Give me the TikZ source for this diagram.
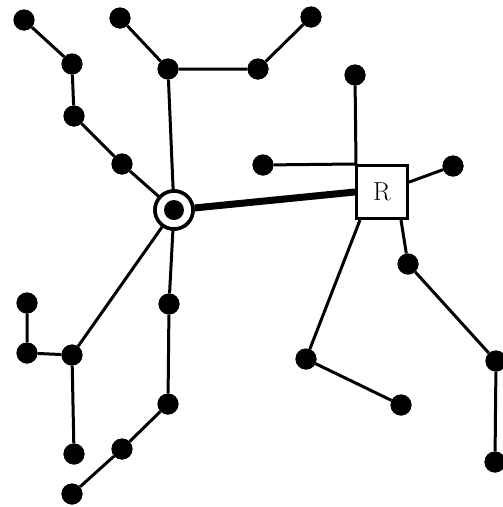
\documentclass[tikz,border=0pt]{standalone}
\begin{document}
\begin{tikzpicture}[x=1pt,y=-1pt,
  dot/.style={circle,fill=black,minimum size=21pt,inner sep=0pt},
  edge/.style={line width=3pt},
  trunk/.style={line width=7pt},
  hubring/.style={circle,draw,line width=3.5pt,minimum size=38pt,inner sep=0pt,fill=white},
  router/.style={rectangle,draw,line width=3pt,minimum width=51pt,minimum height=53pt,inner sep=0pt,fill=white,font=\fontsize{26}{26}\selectfont}
]
\useasboundingbox (0,0) rectangle (503,507);
% nodes
\node[hubring] (hub) at (174,210) {};
\node[router] (R) at (382,192) {R};
\node[dot] (a1) at (24,20) {};
\node[dot] (a2) at (72,64) {};
\node[dot] (a3) at (74,116) {};
\node[dot] (a4) at (122,164) {};
\node[dot] (b1) at (120,18) {};
\node[dot] (b2) at (168,69) {};
\node[dot] (b3) at (258,69) {};
\node[dot] (b4) at (311,17) {};
\node[dot] (c1) at (355,75) {};
\node[dot] (c2) at (263,165) {};
\node[dot] (c3) at (453,166) {};
\node[dot] (d1) at (306,359) {};
\node[dot] (d2) at (401,405) {};
\node[dot] (d3) at (408,264) {};
\node[dot] (d4) at (496,361) {};
\node[dot] (d5) at (495,462) {};
\node[dot] (e1) at (72,355) {};
\node[dot] (e2) at (27,353) {};
\node[dot] (e3) at (27,303) {};
\node[dot] (e4) at (74,454) {};
\node[dot] (f1) at (169,304) {};
\node[dot] (f2) at (168,404) {};
\node[dot] (f3) at (122,449) {};
\node[dot] (f4) at (72,494) {};
% edges
\draw[edge] (a1) -- (a2) -- (a3) -- (a4) -- (hub);
\draw[edge] (b1) -- (b2) -- (b3) -- (b4);
\draw[edge] (b2) -- (hub);
\draw[edge] (hub) -- (e1);
\draw[edge] (e3) -- (e2) -- (e1) -- (e4);
\draw[edge] (hub) -- (f1) -- (f2) -- (f3) -- (f4);
\draw[trunk] (hub) -- (R.west);
\draw[edge] (c1) -- ([xshift=1pt]R.north west);
\draw[edge] (c2) -- (R.north west);
\draw[edge] (c3) -- (R);
\draw[edge] ([xshift=-22pt]R.south) -- (d1) -- (d2);
\draw[edge] ([xshift=19pt]R.south) -- (d3) -- (d4) -- (d5);
% redraw nodes on top
\node[hubring] at (hub) {};
\node[dot,minimum size=20pt] at (hub) {};
\node[router] at (R) {R};
\foreach \n in {a1,a2,a3,a4,b1,b2,b3,b4,c1,c2,c3,d1,d2,d3,d4,d5,e1,e2,e3,e4,f1,f2,f3,f4}
  \node[dot] at (\n) {};
\end{tikzpicture}
\end{document}
